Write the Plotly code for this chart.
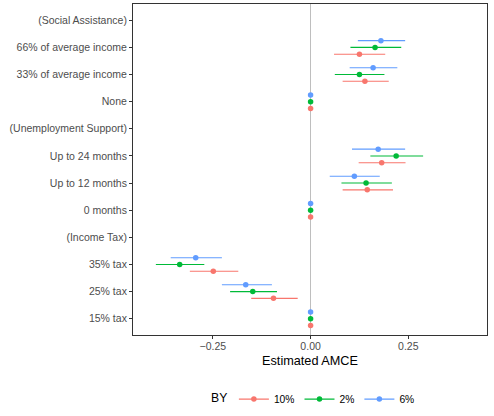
import plotly.graph_objects as go

# Attribute levels, bottom to top
levels = [
    "15% tax", "25% tax", "35% tax", "(Income Tax)",
    "0 months", "Up to 12 months", "Up to 24 months", "(Unemployment Support)",
    "None", "33% of average income", "66% of average income", "(Social Assistance)",
]

groups = ["10%", "2%", "6%"]
colors = {"10%": "#F8766D", "2%": "#00BA38", "6%": "#619CFF"}
offsets = {"10%": -0.25, "2%": 0.0, "6%": 0.25}

# Estimates and 95% intervals per group (None = header rows without estimates)
est = {
    "10%": [0.0, -0.095, -0.249, None, 0.0, 0.145, 0.182, None, 0.0, 0.139, 0.125, None],
    "2%":  [0.0, -0.148, -0.335, None, 0.0, 0.142, 0.219, None, 0.0, 0.125, 0.165, None],
    "6%":  [0.0, -0.166, -0.294, None, 0.0, 0.112, 0.173, None, 0.0, 0.160, 0.180, None],
}
low = {
    "10%": [0.0, -0.152, -0.309, None, 0.0, 0.082, 0.123, None, 0.0, 0.082, 0.060, None],
    "2%":  [0.0, -0.206, -0.396, None, 0.0, 0.079, 0.153, None, 0.0, 0.062, 0.102, None],
    "6%":  [0.0, -0.227, -0.358, None, 0.0, 0.049, 0.106, None, 0.0, 0.100, 0.121, None],
}
high = {
    "10%": [0.0, -0.033, -0.185, None, 0.0, 0.211, 0.243, None, 0.0, 0.200, 0.191, None],
    "2%":  [0.0, -0.086, -0.272, None, 0.0, 0.208, 0.288, None, 0.0, 0.189, 0.232, None],
    "6%":  [0.0, -0.099, -0.227, None, 0.0, 0.177, 0.242, None, 0.0, 0.222, 0.242, None],
}

x_ticks = [-0.25, 0.0, 0.25]
x_tick_text = ["\u22120.25", "0.00", "0.25"]

fig = go.Figure()

for g in groups:
    xs, ys, plus, minus = [], [], [], []
    for i, (e, lo, hi) in enumerate(zip(est[g], low[g], high[g])):
        if e is None:
            continue
        xs.append(e)
        ys.append(i + 1 + offsets[g])
        plus.append(hi - e)
        minus.append(e - lo)
    fig.add_trace(go.Scatter(
        x=xs, y=ys, mode="markers",
        marker=dict(color=colors[g], size=5.5),
        error_x=dict(type="data", array=plus, arrayminus=minus,
                     color=colors[g], thickness=1.1, width=0),
        showlegend=False, hoverinfo="x+y",
    ))

# legend entries: line with a dot, in group order
for g in groups:
    fig.add_trace(go.Scatter(
        x=[None], y=[None], mode="lines+markers", name=g,
        line=dict(color=colors[g], width=1.1),
        marker=dict(color=colors[g], size=5.5),
    ))

fig.update_layout(
    width=494, height=416,
    margin=dict(l=133, r=7, t=4, b=80),
    paper_bgcolor="white", plot_bgcolor="white",
    font=dict(family="Liberation Sans, Arial, sans-serif", color="#4D4D4D", size=10.5),
    legend=dict(
        orientation="h", x=0.285, xanchor="left", y=-0.19, yanchor="middle",
        font=dict(size=10.3, color="black"),
        itemwidth=30, tracegroupgap=0,
    ),
    annotations=[dict(
        text="BY", xref="paper", yref="paper", x=0.271, y=-0.19,
        xanchor="right", yanchor="middle", showarrow=False,
        font=dict(size=12.2, color="black"),
    )],
    xaxis=dict(
        range=[-0.4545, 0.4515],
        tickvals=x_ticks, ticktext=x_tick_text,
        ticks="outside", ticklen=3, tickwidth=1, tickcolor="#333333",
        ticklabelstandoff=-2,
        showline=True, linecolor="#333333", linewidth=1, mirror=True,
        showgrid=False,
        zeroline=True, zerolinecolor="#BEBEBE", zerolinewidth=1.2,
        title=dict(text="Estimated AMCE", font=dict(size=12.7, color="black"), standoff=5),
        tickfont=dict(size=10.5, color="#4D4D4D"),
    ),
    yaxis=dict(
        range=[0.4, 12.6],
        tickvals=list(range(1, len(levels) + 1)), ticktext=levels,
        ticks="outside", ticklen=3, tickwidth=1, tickcolor="#333333",
        showline=True, linecolor="#333333", linewidth=1, mirror=True,
        showgrid=False, zeroline=False,
        tickfont=dict(size=10.5, color="#4D4D4D"),
    ),
)

fig.write_html("out.html")
